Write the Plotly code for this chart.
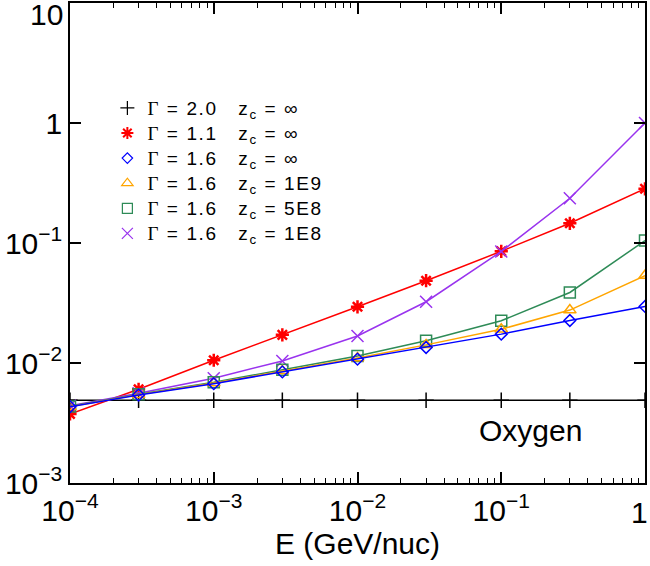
import plotly.graph_objects as go

# ---------------- data ----------------
energy = [1e-4, 3e-4, 1e-3, 3e-3, 1e-2, 3e-2, 1e-1, 3e-1, 1.0]

ratio_g20_inf = [0.0049, 0.0049, 0.0049, 0.0049, 0.0049, 0.0049, 0.0049, 0.0049, 0.0049]
ratio_g11_inf = [0.00376, 0.00604, 0.01054, 0.01717, 0.0294, 0.0485, 0.0853, 0.146, 0.283]
ratio_g16_inf = [0.00432, 0.00541, 0.00673, 0.00843, 0.01076, 0.01346, 0.0174, 0.0226, 0.0296]
ratio_g16_1e9 = [0.00432, 0.00545, 0.0068, 0.0086, 0.0110, 0.01416, 0.0191, 0.0276, 0.0535]
ratio_g16_5e8 = [0.00435, 0.0055, 0.0069, 0.0088, 0.01146, 0.0153, 0.0225, 0.0387, 0.1047]
ratio_g16_1e8 = [0.0044, 0.0056, 0.00747, 0.0104, 0.0168, 0.0324, 0.085, 0.236, 1.0]

gammas = ["2.0", "1.1", "1.6", "1.6", "1.6", "1.6"]
zcuts = ["∞", "∞", "∞", "1E9", "5E8", "1E8"]

SP = "\u00a0"
def make_label(g, z):
    return (f'<span style="font-size:19px;letter-spacing:1.6px">'
            f'<span style="font-family:Liberation Serif">Γ</span> = {g}{SP*3}'
            f'z<sub>c</sub> = {z}</span>')

labels = [make_label(g, z) for g, z in zip(gammas, zcuts)]
series = [ratio_g20_inf, ratio_g11_inf, ratio_g16_inf, ratio_g16_1e9, ratio_g16_5e8, ratio_g16_1e8]
colors = ["#000000", "#ff0000", "#0000ff", "#ffa500", "#2e8b57", "#9933ee"]
symbols = ["cross-thin-open", "asterisk-open", "diamond-open", "triangle-up-open", "square-open", "x-thin-open"]
msizes = [11, 11, 9, 11, 11, 12]
mwidths = [1.5, 2.5, 1.5, 1.5, 1.5, 1.5]

x_tickvals = [1e-4, 1e-3, 1e-2, 1e-1, 1]
x_ticktext = ["10<sup>−4</sup>", "10<sup>−3</sup>", "10<sup>−2</sup>", "10<sup>−1</sup>", ""]
x_edge_label = "1"
y_tickvals = [1e-3, 1e-2, 1e-1, 1, 10]
y_ticktext = ["10<sup>−3</sup>", "10<sup>−2</sup>", "10<sup>−1</sup>", "1", ""]
y_edge_label = "10"
x_minor = [m * 10.0 ** e for e in range(-4, 0) for m in range(2, 10)]

fig = go.Figure()

# data traces (drawing order)
draw_order = [0, 1, 5, 4, 3, 2]
for i in draw_order:
    fig.add_trace(go.Scatter(
        x=energy, y=series[i], mode="lines+markers",
        line=dict(color=colors[i], width=1.5),
        marker=dict(symbol=symbols[i], size=msizes[i], color=colors[i],
                    line=dict(color=colors[i], width=mwidths[i])),
        showlegend=False, hoverinfo="skip",
    ))

# legend entries (legend order)
for i in range(6):
    fig.add_trace(go.Scatter(
        x=[None], y=[None], mode="markers", name=labels[i],
        marker=dict(symbol=symbols[i], size=msizes[i] - 1, color=colors[i],
                    line=dict(color=colors[i], width=mwidths[i] * 0.8)),
    ))

# helper trace so the top (mirror) axis with minor ticks is drawn
fig.add_trace(go.Scatter(x=[None], y=[None], xaxis="x2", showlegend=False, hoverinfo="skip"))

fig.add_annotation(x=-0.8, y=-2.565, xref="x", yref="y", text="Oxygen",
                   showarrow=False, font=dict(size=30, color="black"))

# edge tick labels, nudged inward so they stay inside the page
fig.add_annotation(x=0, y=1, xref="paper", yref="paper", text=y_edge_label,
                   xanchor="right", yanchor="middle", xshift=-6, yshift=-11,
                   showarrow=False, borderpad=0, font=dict(size=30, color="black"))
fig.add_annotation(x=1, y=0, xref="paper", yref="paper", text=x_edge_label,
                   xanchor="right", yanchor="middle", xshift=4, yshift=-29,
                   showarrow=False, borderpad=0, font=dict(size=30, color="black"))

axis_common = dict(
    type="log", showline=True, linecolor="black", linewidth=1.5, mirror="ticks",
    ticks="inside", ticklen=11, tickwidth=1.5, tickcolor="black",
    showgrid=False, zeroline=False, automargin=False,
    tickfont=dict(size=30, color="black"),
)

fig.update_layout(
    xaxis=dict(
        **axis_common, range=[-4, 0], tickmode="array",
        tickvals=x_tickvals, ticktext=x_ticktext,
        minor=dict(tickmode="array", tickvals=x_minor, ticks="inside", ticklen=5,
                   tickwidth=1, tickcolor="black", showgrid=False),
        title=dict(text="E (GeV/nuc)", font=dict(size=30, color="black"), standoff=6),
    ),
    xaxis2=dict(
        type="log", range=[-4, 0], overlaying="x", side="top", anchor="y",
        showline=False, showgrid=False, zeroline=False, showticklabels=False,
        automargin=False,
        tickmode="array", tickvals=x_tickvals, ticks="inside", ticklen=11,
        tickwidth=1.5, tickcolor="black",
        minor=dict(tickmode="array", tickvals=x_minor, ticks="inside", ticklen=5,
                   tickwidth=1, tickcolor="black", showgrid=False),
    ),
    yaxis=dict(
        **axis_common, range=[-3, 1], tickmode="array",
        tickvals=y_tickvals, ticktext=y_ticktext,
    ),
    width=650, height=566,
    margin=dict(l=70, r=5, t=3, b=83, pad=0, autoexpand=False),
    paper_bgcolor="white", plot_bgcolor="white",
    font=dict(family="Liberation Sans, Arial, sans-serif", color="black"),
    legend=dict(x=0.065, y=0.818, xanchor="left", yanchor="top",
                bgcolor="rgba(0,0,0,0)", borderwidth=0,
                font=dict(size=17, color="black"), tracegroupgap=0,
                itemclick=False),
)

fig.write_html("out.html")
